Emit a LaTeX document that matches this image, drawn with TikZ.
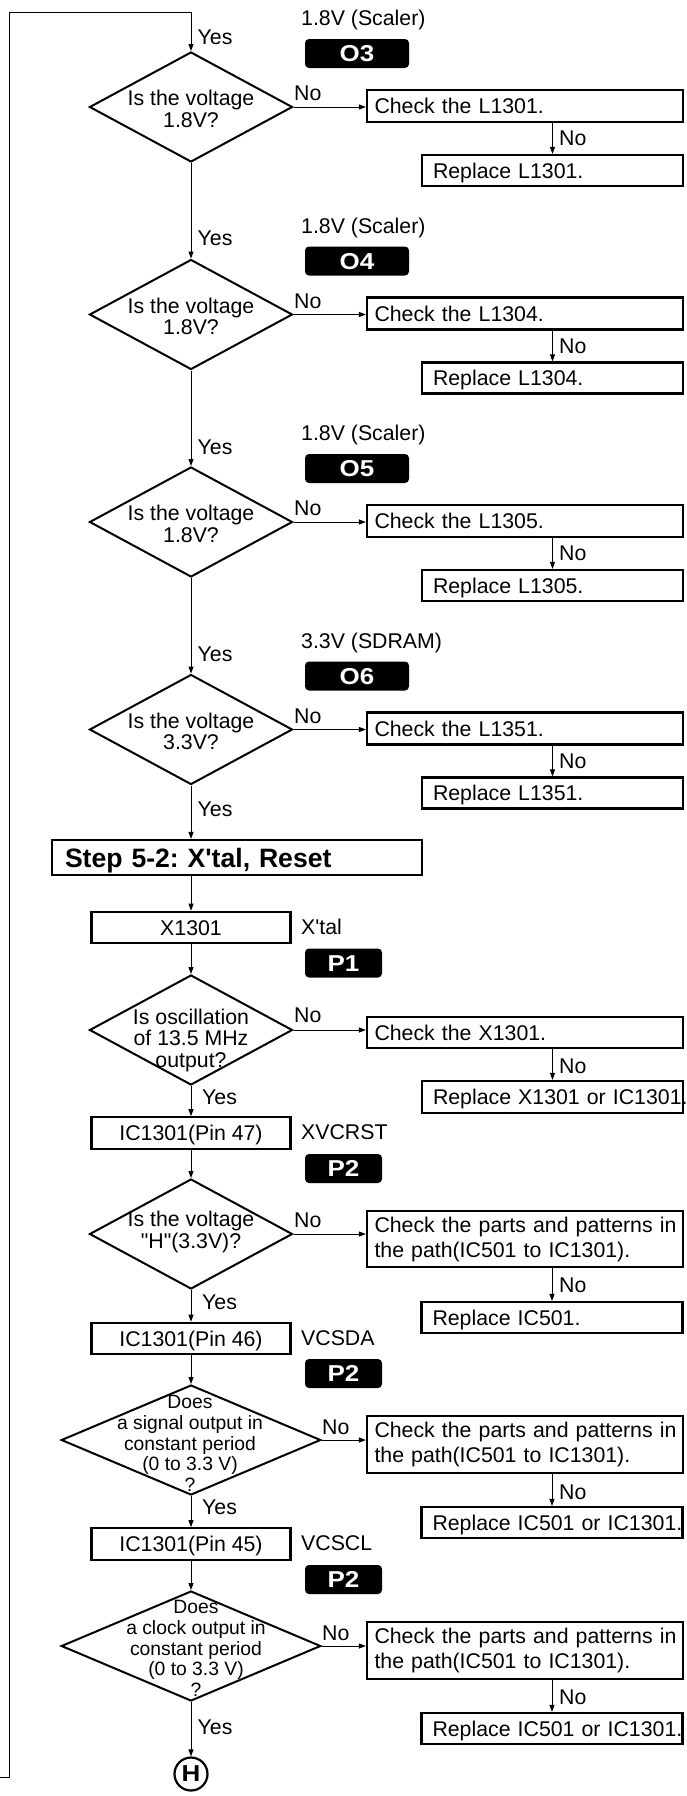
\documentclass[tikz,border=0pt]{standalone}
\usepackage{fontspec}
\setmainfont{Liberation Sans}[Ligatures=TeXOff]
\newfontfamily\tagfam{Liberation Sans}[Ligatures=TeXOff,FakeStretch=1.13]
\usetikzlibrary{arrows.meta,shapes.geometric}
\newcommand\myfA{\fontsize{21.3pt}{25pt}\selectfont}
\newcommand\myfD{\fontsize{21.3pt}{21.5pt}\selectfont}
\newcommand\myfE{\fontsize{19.3pt}{20.8pt}\selectfont}
\newcommand\myfB{\fontsize{26.6pt}{30pt}\selectfont\bfseries}
\newcommand\myfT{\tagfam\fontsize{23pt}{26pt}\selectfont\bfseries}
\frenchspacing
\begin{document}
\begin{tikzpicture}[x=1pt,y=-1pt,
  conn/.style={line width=1pt,-{Triangle[length=7pt,width=5pt]}},
  dia/.style={diamond,draw,line width=2pt,inner sep=0pt,minimum width=203pt,minimum height=110pt},
  bigdia/.style={dia,minimum width=259.5pt},
  dtxt/.style={align=center,inner sep=0pt,font=\myfD},
  etxt/.style={align=center,inner sep=0pt,font=\myfE},
  lbl/.style={anchor=west,inner sep=0pt,font=\myfA,text height=15.3pt,text depth=0pt},
  tag/.style={fill=black,rounded corners=4pt,text=white,font=\myfT,inner sep=0pt,minimum height=29pt,text height=16.5pt,text depth=0pt},
  chk/.style={draw,line width=2.2pt,inner ysep=0pt,inner xsep=7.5pt,text width=301pt,align=left,font=\myfA},
  one/.style={text height=15.3pt,text depth=0pt},
  rep/.style={draw,line width=2.2pt,inner ysep=0pt,inner xsep=11pt,text width=239pt,align=left,font=\myfA,minimum height=31pt,one},
  cbox/.style={draw,line width=2.2pt,inner sep=0pt,minimum width=199pt,minimum height=31.5pt,font=\myfA,one},
  stepbox/.style={draw,line width=2.2pt,inner ysep=0pt,inner xsep=13pt,text width=344pt,align=left,minimum height=35pt,font=\myfB,text height=19pt,text depth=0pt},
]
\fill[white] (0,0) rectangle (687,1796);
\useasboundingbox (0,0) rectangle (687,1796);

\foreach \kk/\yy/\vl/\tg/\vq/\pn in {1/107/1.8V (Scaler)/O3/1.8V?/L1301,
    2/314.5/1.8V (Scaler)/O4/1.8V?/L1304,
    3/522/1.8V (Scaler)/O5/1.8V?/L1305,
    4/729.5/3.3V (SDRAM)/O6/3.3V?/L1351}{
  \node[dia] (d\kk) at (191,\yy) {};
  \node[dtxt] (t\kk) at (191,\yy+2) {Is the voltage\\\vq};
  \node[lbl] (v\kk) at (301,\yy-89) {\vl};
  \node[tag,minimum width=104pt] (o\kk) at (357,\yy-53.5) {\tg};
  \node[chk,minimum height=32pt,one] (c\kk) at (525,\yy-1) {\mbox{Check the \pn.}};
  \node[rep] (r\kk) at (552.5,\yy+63.5) {\mbox{Replace \pn.}};
  \node[lbl] (nh\kk) at (294,\yy-14) {No};
  \node[lbl] (nv\kk) at (559,\yy+31) {No};
  \draw[conn] (d\kk.east) -- (d\kk.east -| c\kk.west);
  \draw[conn] (r\kk.north |- c\kk.south) -- (r\kk.north);
}

% loop line from previous page
\coordinate (lp0) at (0,1777);
\coordinate (lp1) at (9,1777);
\coordinate (lp2) at (9,12);
\draw[conn] (lp0) -- (lp1) -- (lp2) -- (lp2 -| d1.north) -- (d1.north);

\node[lbl] (y1) at (197.5,37) {Yes};
\node[lbl] (y2) at (197.5,238) {Yes};
\node[lbl] (y3) at (197.5,447) {Yes};
\node[lbl] (y4) at (197.5,654) {Yes};
\node[lbl] (y5) at (197.5,809) {Yes};
\draw[conn] (d1.south) -- (d2.north);
\draw[conn] (d2.south) -- (d3.north);
\draw[conn] (d3.south) -- (d4.north);

\node[stepbox] (step) at (237,857.5) {\mbox{Step 5-2: X'tal, Reset}};
\draw[conn] (d4.south) -- (d4.south |- step.north);

% X1301
\node[cbox] (x1) at (191,927.5) {X1301};
\draw[conn] (x1.north |- step.south) -- (x1.north);
\node[lbl] (xt) at (301,927) {X'tal};
\node[tag,minimum width=77pt] (p1) at (343.5,963) {P1};

\node[dia] (d5) at (191,1030) {};
\node[dtxt] (t5) at (191,1040) {Is oscillation\\of 13.5 MHz\\output?};
\draw[conn] (x1.south) -- (d5.north);
\node[chk,minimum height=31pt,one] (c5) at (525,1032.5) {\mbox{Check the X1301.}};
\node[rep,minimum height=32pt] (r5) at (552.5,1097) {\mbox{Replace X1301 or IC1301.}};
\node[lbl] (nh5) at (294,1015) {No};
\node[lbl] (nv5) at (559,1066) {No};
\draw[conn] (d5.east) -- (d5.east -| c5.west);
\draw[conn] (r5.north |- c5.south) -- (r5.north);
\node[lbl] (y6) at (202,1097) {Yes};

% IC1301 Pin 47
\node[cbox] (ic47) at (191,1133) {IC1301(Pin 47)};
\draw[conn] (d5.south) -- (ic47.north);
\node[lbl] (xv) at (301,1132) {XVCRST};
\node[tag,minimum width=77pt] (p2a) at (343.5,1168.5) {P2};

\node[dia] (d6) at (191,1234) {};
\node[dtxt] (t6) at (191,1232) {Is the voltage\\"H"(3.3V)?};
\draw[conn] (ic47.south) -- (d6.north);
\node[chk,minimum height=56pt] (c6) at (525,1239) {\mbox{Check the parts and patterns in}\\\mbox{the path(IC501 to IC1301).}};
\node[rep] (r6) at (552,1317.5) {\mbox{Replace IC501.}};
\node[lbl] (nh6) at (294,1220) {No};
\node[lbl] (nv6) at (559,1285) {No};
\draw[conn] (d6.east) -- (d6.east -| c6.west);
\draw[conn] (r6.north |- c6.south) -- (r6.north);
\node[lbl] (y7) at (202,1302) {Yes};

% IC1301 Pin 46
\node[cbox] (ic46) at (191,1338.5) {IC1301(Pin 46)};
\draw[conn] (d6.south) -- (ic46.north);
\node[lbl] (vs) at (301,1338) {VCSDA};
\node[tag,minimum width=77pt] (p2b) at (343.5,1373.5) {P2};

\node[bigdia] (d7) at (191,1440) {};
\node[etxt] (t7) at (190,1443.5) {Does\\a signal output in\\constant period\\(0 to 3.3 V)\\?};
\draw[conn] (ic46.south) -- (d7.north);
\node[chk,minimum height=57pt] (c7) at (525,1444.5) {\mbox{Check the parts and patterns in}\\\mbox{the path(IC501 to IC1301).}};
\node[rep] (r7) at (552,1522.5) {\mbox{Replace IC501 or IC1301.}};
\node[lbl] (nh7) at (322,1427) {No};
\node[lbl] (nv7) at (559,1492) {No};
\draw[conn] (d7.east) -- (d7.east -| c7.west);
\draw[conn] (r7.north |- c7.south) -- (r7.north);
\node[lbl] (y8) at (202,1507) {Yes};

% IC1301 Pin 45
\node[cbox] (ic45) at (191,1544) {IC1301(Pin 45)};
\draw[conn] (d7.south) -- (ic45.north);
\node[lbl] (vc) at (301,1543) {VCSCL};
\node[tag,minimum width=77pt] (p2c) at (343.5,1579.5) {P2};

\node[bigdia] (d8) at (191,1646) {};
\node[etxt] (t8) at (196,1648.5) {Does\\a clock output in\\constant period\\(0 to 3.3 V)\\?};
\draw[conn] (ic45.south) -- (d8.north);
\node[chk,minimum height=57pt] (c8) at (525,1650.5) {\mbox{Check the parts and patterns in}\\\mbox{the path(IC501 to IC1301).}};
\node[rep] (r8) at (552,1728.5) {\mbox{Replace IC501 or IC1301.}};
\node[lbl] (nh8) at (322,1633) {No};
\node[lbl] (nv8) at (559,1697) {No};
\draw[conn] (d8.east) -- (d8.east -| c8.west);
\draw[conn] (r8.north |- c8.south) -- (r8.north);
\node[lbl] (y9) at (197.5,1727) {Yes};

\node[circle,draw,line width=2.2pt,minimum size=33pt,inner sep=0pt,font=\myfT] (H) at (191,1774) {H};
\draw[conn] (d8.south) -- (H.north);
\end{tikzpicture}
\end{document}
